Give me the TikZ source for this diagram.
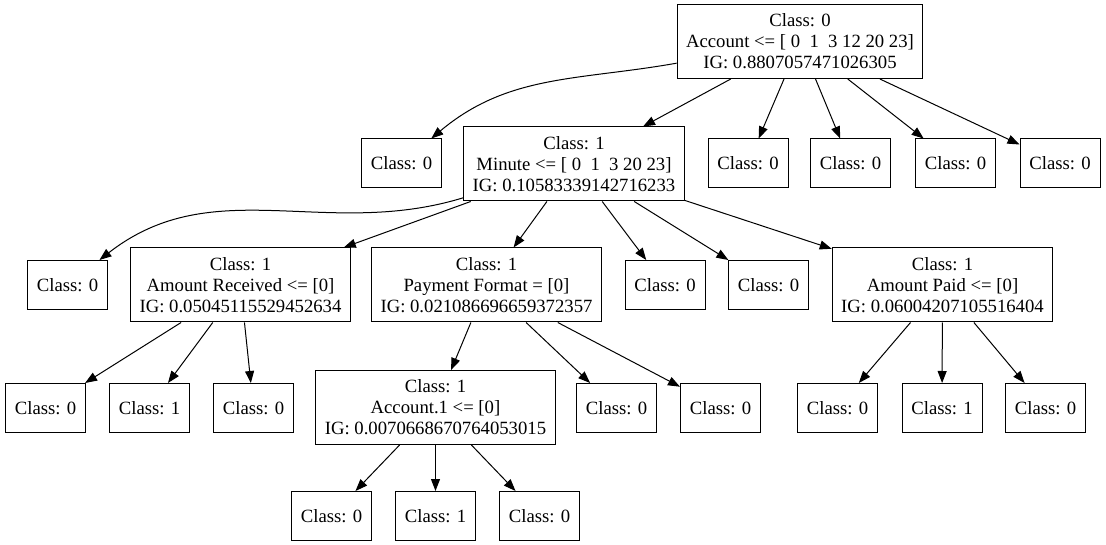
\documentclass[tikz,border=0pt]{standalone}
\usepackage{fontspec}
\setmainfont{Liberation Serif}
\usetikzlibrary{arrows.meta}

\begin{document}
\begin{tikzpicture}[
        x = 1pt, y = -1pt, % pixel grid of the layout
        > = {Triangle[length=12pt,width=9pt]}, % arrow head style
        line width = 1pt, % line style
        font = \fontsize{18.7}{21}\selectfont
    ]

    \tikzstyle{leaf}=[
        draw = black,
        fill = white,
        minimum width = 80pt,
        minimum height = 49pt,
        inner sep = 0pt
    ]
    \tikzstyle{split}=[
        draw = black,
        fill = white,
        align = center,
        minimum height = 74pt,
        inner xsep = 9pt,
        inner ysep = 0pt
    ]

    \useasboundingbox (0,0) rectangle (1106,545);

    % root
    \node[split] (root) at (800,41.5) {Class: 0\\Account <= [~0~~1~~3 12 20 23]\\IG: 0.8807057471026305};

    % level 1
    \node[leaf] (L1a) at (401.5,163.5) {Class: 0};
    \node[split] (minute) at (574,164) {Class: 1\\Minute <= [~0~~1~~3 20 23]\\IG: 0.10583339142716233};
    \node[leaf] (L1c) at (748,163.5) {Class: 0};
    \node[leaf] (L1d) at (850.5,163.5) {Class: 0};
    \node[leaf] (L1e) at (955.5,163.5) {Class: 0};
    \node[leaf] (L1f) at (1060,163.5) {Class: 0};

    % level 2
    \node[leaf] (L2a) at (67.5,285) {Class: 0};
    \node[split] (amtrec) at (240.5,285) {Class: 1\\Amount Received <= [0]\\IG: 0.05045115529452634};
    \node[split] (payfmt) at (486.5,285) {Class: 1\\Payment Format = [0]\\IG: 0.021086696659372357};
    \node[leaf] (L2d) at (665,285) {Class: 0};
    \node[leaf] (L2e) at (768.5,285) {Class: 0};
    \node[split] (amtpaid) at (942.5,285) {Class: 1\\Amount Paid <= [0]\\IG: 0.06004207105516404};

    % level 3
    \node[leaf] (L3a) at (45.5,408) {Class: 0};
    \node[leaf] (L3b) at (149.5,408) {Class: 1};
    \node[leaf] (L3c) at (253.5,408) {Class: 0};
    \node[split] (acct) at (435.5,407.5) {Class: 1\\Account.1 <= [0]\\IG: 0.0070668670764053015};
    \node[leaf] (L3e) at (616.5,408) {Class: 0};
    \node[leaf] (L3f) at (720.5,408) {Class: 0};
    \node[leaf] (L3g) at (837.5,408) {Class: 0};
    \node[leaf] (L3h) at (942,408) {Class: 1};
    \node[leaf] (L3i) at (1045.5,408) {Class: 0};

    % level 4
    \node[leaf] (L4a) at (331.5,516) {Class: 0};
    \node[leaf] (L4b) at (435.5,516) {Class: 1};
    \node[leaf] (L4c) at (539.5,516) {Class: 0};

    \draw[->] (root) to[out=190, in=40] (L1a);
    \path[->] (root) edge (minute);
    \path[->] (root) edge (L1c);
    \path[->] (root) edge (L1d);
    \path[->] (root) edge (L1e);
    \path[->] (root) edge (L1f);

    \draw[->] (minute) to[out=197, in=38] (L2a);
    \path[->] (minute) edge (amtrec);
    \path[->] (minute) edge (payfmt);
    \path[->] (minute) edge (L2d);
    \path[->] (minute) edge (L2e);
    \path[->] (minute) edge (amtpaid);

    \path[->] (amtrec) edge (L3a);
    \path[->] (amtrec) edge (L3b);
    \path[->] (amtrec) edge (L3c);
    \path[->] (payfmt) edge (acct);
    \path[->] (payfmt) edge (L3e);
    \path[->] (payfmt) edge (L3f);
    \path[->] (amtpaid) edge (L3g);
    \path[->] (amtpaid) edge (L3h);
    \path[->] (amtpaid) edge (L3i);

    \path[->] (acct) edge (L4a);
    \path[->] (acct) edge (L4b);
    \path[->] (acct) edge (L4c);
\end{tikzpicture}
\end{document}
